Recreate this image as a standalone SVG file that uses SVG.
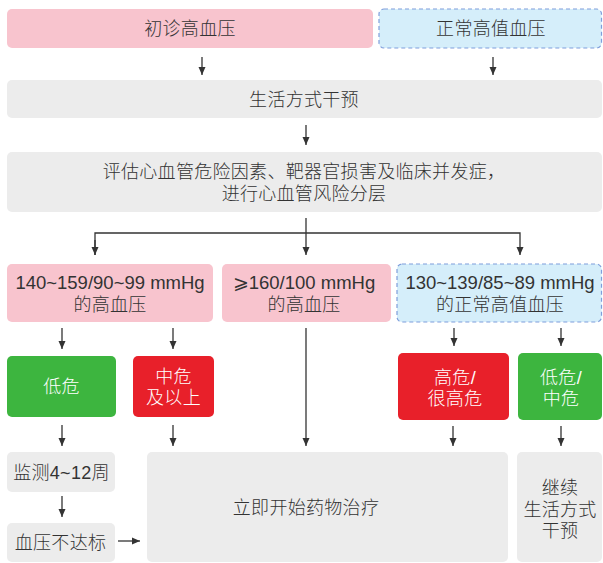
<svg xmlns="http://www.w3.org/2000/svg" width="603" height="563" viewBox="0 0 603 563">
<style>
  .t{font-family:"Liberation Sans","Noto Sans CJK SC","DejaVu Sans",sans-serif;font-size:18px;font-weight:300;fill:#333;text-anchor:middle;letter-spacing:0.3px}
  .n{font-size:18.5px;letter-spacing:0}
  .w{fill:#fff}
  .pink{fill:#f8c4ce}
  .blue{fill:#d5eefa;stroke:#7f9edb;stroke-width:1.2;stroke-dasharray:4 3}
  .grey{fill:#ececec}
  .green{fill:#3db53f}
  .red{fill:#e8202a}
  .ln{fill:none;stroke:#333;stroke-width:1.3}
</style>
<defs>
  <marker id="ah" viewBox="0 0 8 8" refX="8" refY="4" markerWidth="8" markerHeight="8" markerUnits="userSpaceOnUse" orient="auto">
    <path d="M0,0.5 L8,4 L0,7.5 Z" fill="#333"/>
  </marker>
</defs>
<rect width="603" height="563" fill="#fff"/>

<g id="n-initial"><rect class="pink" x="7" y="9" width="366" height="39" rx="5"/><text class="t" x="190" y="35">初诊高血压</text></g>
<g id="n-normalhigh"><rect class="blue" x="379" y="9" width="222.5" height="39" rx="5"/><text class="t" x="491" y="35">正常高值血压</text></g>
<g id="n-lifestyle"><rect class="grey" x="7" y="80" width="595" height="38" rx="5"/><text class="t" x="304" y="106">生活方式干预</text></g>
<g id="n-assess"><rect class="grey" x="7" y="152" width="595" height="60" rx="5"/>
  <text class="t" x="304" y="178">评估心血管危险因素、靶器官损害及临床并发症，</text>
  <text class="t" x="304" y="200">进行心血管风险分层</text></g>

<g id="n-grade1"><rect class="pink" x="7" y="264" width="206" height="58" rx="5"/>
  <text class="t n" x="110" y="289">140~159/90~99 mmHg</text>
  <text class="t" x="110" y="311">的高血压</text></g>
<g id="n-grade2"><rect class="pink" x="222" y="264" width="169" height="58" rx="5"/>
  <text class="t n" x="304" y="289">⩾160/100 mmHg</text>
  <text class="t" x="304" y="311">的高血压</text></g>
<g id="n-grade0"><rect class="blue" x="397" y="264" width="204.5" height="58" rx="5"/>
  <text class="t n" x="500" y="289">130~139/85~89 mmHg</text>
  <text class="t" x="500" y="311">的正常高值血压</text></g>

<g id="n-low"><rect class="green" x="7" y="356" width="109" height="61" rx="5"/><text class="t w" x="61.5" y="393">低危</text></g>
<g id="n-mid"><rect class="red" x="133" y="356" width="81" height="61" rx="5"/>
  <text class="t w" x="173.5" y="383">中危</text><text class="t w" x="173.5" y="404">及以上</text></g>
<g id="n-high"><rect class="red" x="398" y="353" width="111" height="67" rx="5"/>
  <text class="t w" x="455" y="384">高危/</text><text class="t w" x="455" y="405">很高危</text></g>
<g id="n-lowmid"><rect class="green" x="518" y="353" width="84" height="67" rx="5"/>
  <text class="t w" x="561" y="384">低危/</text><text class="t w" x="561" y="405">中危</text></g>

<g id="n-monitor"><rect class="grey" x="7" y="452" width="108" height="40" rx="5"/><text class="t" x="61.5" y="478.5">监测4~12周</text></g>
<g id="n-notmet"><rect class="grey" x="7" y="523" width="108" height="39" rx="5"/><text class="t" x="60.5" y="549">血压不达标</text></g>
<g id="n-drug"><rect class="grey" x="147" y="452" width="361" height="110" rx="5"/><text class="t" x="306" y="514">立即开始药物治疗</text></g>
<g id="n-continue"><rect class="grey" x="517" y="452" width="85" height="110" rx="5"/>
  <text class="t" x="560" y="494">继续</text><text class="t" x="560" y="515.5">生活方式</text><text class="t" x="560" y="537">干预</text></g>

<g id="connectors">
  <line class="ln" x1="202" y1="57" x2="202" y2="75" marker-end="url(#ah)"/>
  <line class="ln" x1="493" y1="57" x2="493" y2="75" marker-end="url(#ah)"/>
  <line class="ln" x1="306" y1="125" x2="306" y2="145" marker-end="url(#ah)"/>
  <line class="ln" x1="306" y1="218" x2="306" y2="255" marker-end="url(#ah)"/>
  <path class="ln" d="M95,255 V233 H520 V255" marker-end="url(#ah)"/>
  <line class="ln" x1="95" y1="240" x2="95" y2="255" marker-end="url(#ah)"/>
  <line class="ln" x1="62" y1="328" x2="62" y2="349" marker-end="url(#ah)"/>
  <line class="ln" x1="173" y1="328" x2="173" y2="349" marker-end="url(#ah)"/>
  <line class="ln" x1="454" y1="328" x2="454" y2="346" marker-end="url(#ah)"/>
  <line class="ln" x1="561" y1="328" x2="561" y2="346" marker-end="url(#ah)"/>
  <line class="ln" x1="62" y1="425" x2="62" y2="446" marker-end="url(#ah)"/>
  <line class="ln" x1="173" y1="425" x2="173" y2="446" marker-end="url(#ah)"/>
  <line class="ln" x1="306" y1="328" x2="306" y2="446" marker-end="url(#ah)"/>
  <line class="ln" x1="453" y1="426" x2="453" y2="446" marker-end="url(#ah)"/>
  <line class="ln" x1="561" y1="426" x2="561" y2="446" marker-end="url(#ah)"/>
  <line class="ln" x1="62" y1="496" x2="62" y2="517" marker-end="url(#ah)"/>
  <line class="ln" x1="118" y1="541" x2="140" y2="541" marker-end="url(#ah)"/>
</g>
</svg>
